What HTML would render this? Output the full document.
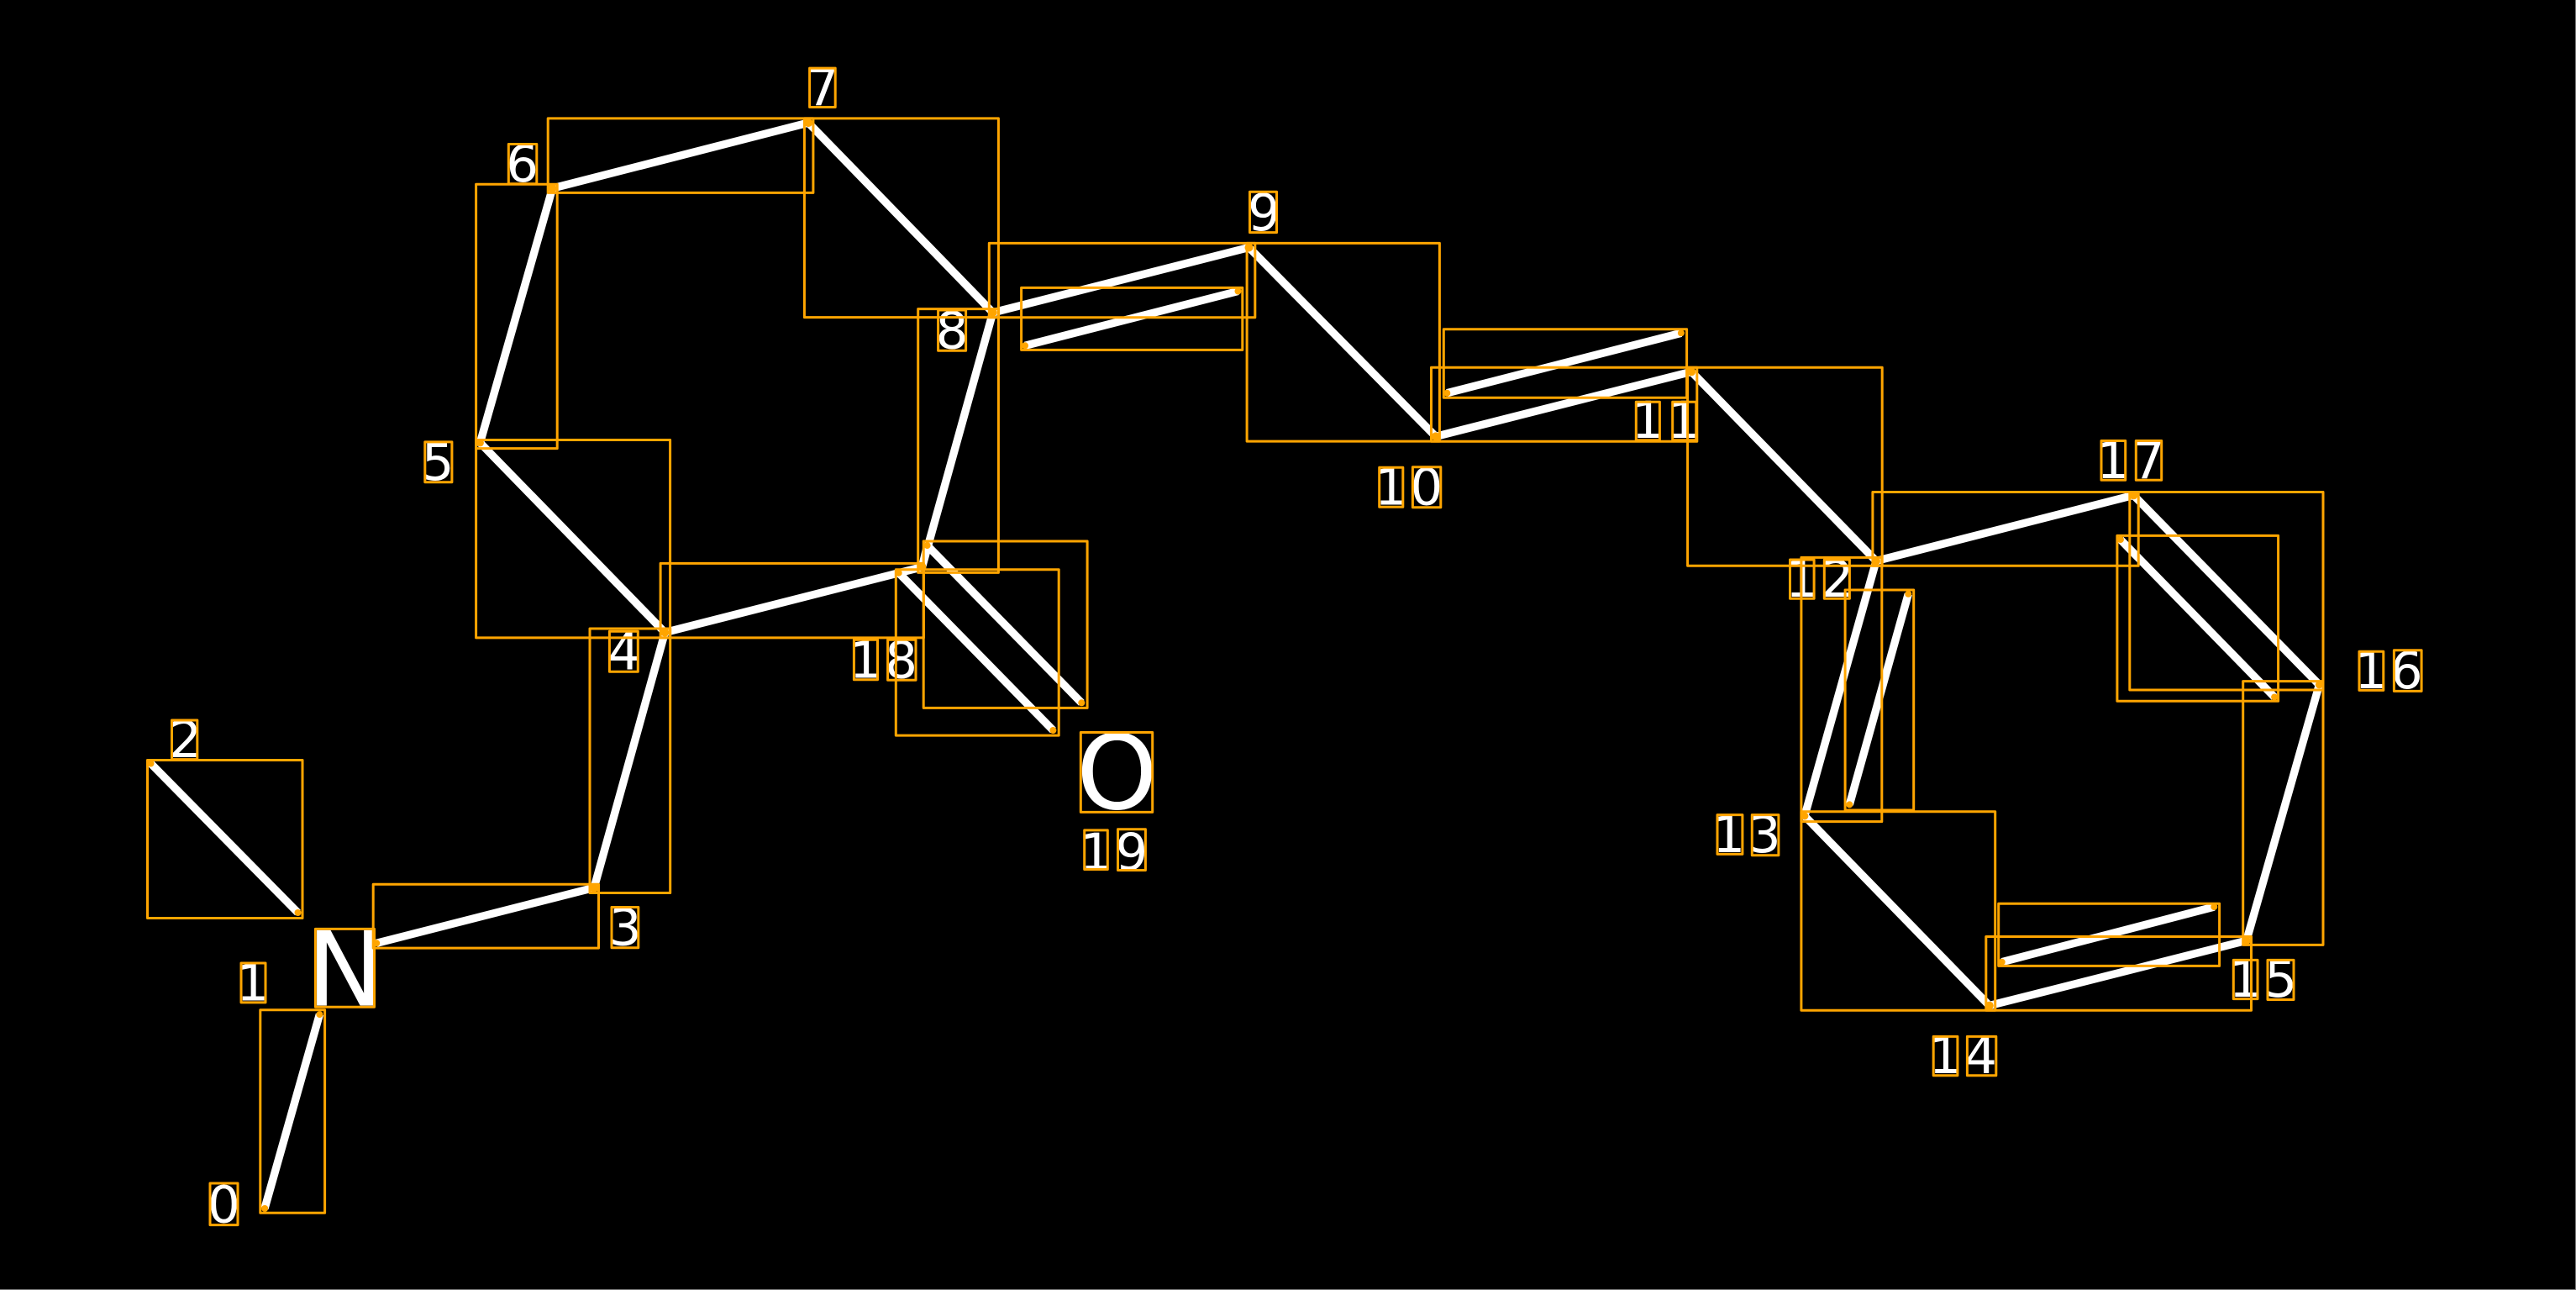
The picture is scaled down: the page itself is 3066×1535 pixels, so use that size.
<!DOCTYPE html>
<html>
<head>
<meta charset="utf-8">
<style>
html,body{margin:0;padding:0;background:#000;width:3066px;height:1535px;overflow:hidden}
svg{display:block;position:absolute;left:0;top:0}
text{font-family:"DejaVu Sans",sans-serif;fill:#fff;font-size:61px;letter-spacing:3.7px}
.b{font-size:123px;letter-spacing:0}
</style>
</head>
<body>
<svg width="3066" height="1535" viewBox="0 0 3066 1535" xmlns="http://www.w3.org/2000/svg">
<rect width="3066" height="1535" fill="#000"/>
<path d="M3065.5 0V1535M0 1534.5H3066" stroke="#777" stroke-width="1" fill="none"/>
<g fill="#fff">
<text x="247" y="1454.5">0</text>
<text x="281.2" y="1190.4">1</text>
<text x="201.2" y="901">2</text>
<text x="724.7" y="1124.5">3</text>
<text x="723.5" y="796.5">4</text>
<text x="501.7" y="571">5</text>
<text x="602.2" y="216">6</text>
<text x="959.8" y="125">7</text>
<text x="1113.6" y="414.5">8</text>
<text x="1485" y="274">9</text>
<text x="1636" y="600.7">10</text>
<text x="1941.7" y="521.2">11</text>
<text x="2125" y="709.8">12</text>
<text x="2038.4" y="1014">13</text>
<text x="2295.6" y="1277">14</text>
<text x="2652.7" y="1186">15</text>
<text x="2802.4" y="819">16</text>
<text x="2495.4" y="569">17</text>
<text x="1010.8" y="806.3">18</text>
<text x="1285" y="1035">19</text>
<text class="b" x="365" y="1196.5">N</text>
<text class="b" x="1281" y="962.5">O</text>
</g>
<g stroke="#fff" stroke-width="9.4" fill="none" stroke-linecap="butt">
<path d="M315 1438L380.4 1207"/>
<path d="M448.2 1122.3L707.1 1056.3"/>
<path d="M179.5 908.5L354.5 1086"/>
<path d="M707.1 1056.3L791.4 752.6M791.4 752.6L571.4 526.9M571.4 526.9L657.5 224.1M657.5 224.1L962.1 146.1M962.1 146.1L1181.7 371.9M1181.7 371.9L1097.5 674.7M1097.5 674.7L791.4 752.6"/>
<path d="M1097.5 674.7L1103.6 649"/>
<path d="M1103.6 649.1L1287.3 836.3"/>
<path d="M1069.7 681.7L1253.4 869"/>
<path d="M1181.7 371.9L1486.5 294.5M1486.5 294.5L1708.8 519.4M1708.8 519.4L2013.2 442.3M2013.2 442.3L2233 667.5M2233 667.5L2147.9 971M2147.9 971L2367.8 1196.6M2367.8 1196.6L2673.8 1119.2M2673.8 1119.2L2760.4 814.8M2760.4 814.8L2539.4 589.3M2539.4 589.3L2233 667.5"/>
<path d="M1220 411.3L1473.5 346.5"/>
<path d="M1722.3 467.7L2000.9 396.3"/>
<path d="M2201.3 957.4L2271.3 706.8"/>
<path d="M2382.7 1144.7L2635.3 1079.1"/>
<path d="M2523.9 642.1L2707.1 829.5"/>
</g>
<g stroke="#ffa500" stroke-width="3" fill="none" stroke-linejoin="round">
<rect x="309.8" y="1201.8" width="76.8" height="241.5"/>
<rect x="444.2" y="1052.2" width="268.3" height="75.9"/>
<rect x="175.5" y="904.5" width="184.5" height="188"/>
<rect x="702" y="748" width="95.7" height="314.5"/>
<rect x="566.6" y="523.5" width="231" height="235.4"/>
<rect x="566.6" y="219.3" width="96.6" height="314.3"/>
<rect x="652.2" y="140.9" width="315.7" height="88.5"/>
<rect x="957.4" y="140.9" width="231" height="236.7"/>
<rect x="1092.7" y="367.6" width="95.7" height="313.8"/>
<rect x="786.1" y="670.4" width="313.3" height="88.5"/>
<rect x="1099.2" y="644" width="194.9" height="198.4"/>
<rect x="1066.3" y="677.7" width="193.9" height="197.4"/>
<rect x="1177.3" y="289.4" width="316.5" height="88.3"/>
<rect x="1215.6" y="342.4" width="263.2" height="74"/>
<rect x="1484.1" y="289.4" width="229.3" height="235.7"/>
<rect x="1703.5" y="437.3" width="316.3" height="88"/>
<rect x="1718.3" y="391.7" width="289.3" height="81.6"/>
<rect x="2008.6" y="437.3" width="231.6" height="236"/>
<rect x="2228.9" y="585.5" width="316.3" height="87.8"/>
<rect x="2534.8" y="585.5" width="230.2" height="235.5"/>
<rect x="2519.9" y="637.4" width="191.7" height="196.8"/>
<rect x="2143.9" y="663.4" width="95.9" height="314.2"/>
<rect x="2196.1" y="702" width="81.6" height="262"/>
<rect x="2143.9" y="965.8" width="230.8" height="236.5"/>
<rect x="2363.8" y="1114.5" width="315.7" height="87.8"/>
<rect x="2378.7" y="1075.3" width="262.9" height="74.1"/>
<rect x="2669.7" y="810.6" width="95.3" height="313.8"/>
<!-- label boxes -->
<rect x="250" y="1408" width="33" height="49.6"/>
<rect x="287" y="1146" width="29" height="46.9"/>
<rect x="204.5" y="857" width="30.3" height="46.6"/>
<rect x="728" y="1079.5" width="31.8" height="48.2"/>
<rect x="725.4" y="751.2" width="33.9" height="48"/>
<rect x="505.8" y="525.9" width="32.1" height="47.9"/>
<rect x="605.3" y="171.5" width="33.5" height="47.3"/>
<rect x="963.6" y="81.1" width="30.6" height="46.4"/>
<rect x="1116.6" y="369" width="33" height="48.3"/>
<rect x="1487.5" y="228.2" width="32" height="48.4"/>
<rect x="1641.7" y="556.2" width="28.1" height="47"/>
<rect x="1681.4" y="555.7" width="33.4" height="48"/>
<rect x="1947.3" y="478.3" width="28.1" height="45.4"/>
<rect x="1990.7" y="478.3" width="28.1" height="45.4"/>
<rect x="2130.5" y="666" width="28.6" height="46.3"/>
<rect x="2171.3" y="666" width="30.1" height="46.3"/>
<rect x="2044" y="969.6" width="29.9" height="46.8"/>
<rect x="2085.3" y="969.6" width="31.6" height="48.2"/>
<rect x="2301.2" y="1233.4" width="28.7" height="46.3"/>
<rect x="2341.4" y="1233.4" width="34.4" height="46.3"/>
<rect x="2658.3" y="1142.4" width="28.7" height="46.2"/>
<rect x="2699" y="1142.4" width="31" height="47.1"/>
<rect x="2808" y="775.2" width="28.8" height="46.2"/>
<rect x="2849.4" y="773.8" width="32.7" height="48.6"/>
<rect x="2501" y="524.5" width="28.7" height="46.8"/>
<rect x="2542.3" y="524.5" width="30.4" height="46.8"/>
<rect x="1016.4" y="761.3" width="28.1" height="47.5"/>
<rect x="1056.6" y="761.3" width="33.4" height="48"/>
<rect x="1290.7" y="987.9" width="27.6" height="46.6"/>
<rect x="1330.5" y="986.8" width="32.9" height="48.7"/>
<rect x="375.4" y="1105.4" width="70.1" height="92.8"/>
<rect x="1286.3" y="871.5" width="85.4" height="94.9"/>
</g>
<g fill="#ffa500">
<circle cx="315.2" cy="1438" r="4"/><circle cx="380.4" cy="1207.1" r="4"/>
<circle cx="448.2" cy="1122.3" r="4"/>
<circle cx="179.5" cy="908.5" r="4"/><circle cx="354.5" cy="1086" r="4"/>
<circle cx="707.1" cy="1057" r="5"/><circle cx="791.4" cy="752.6" r="5"/>
<circle cx="571.4" cy="526.9" r="4.5"/><circle cx="657.5" cy="224.1" r="5"/>
<circle cx="962.1" cy="146.1" r="5"/><circle cx="1181.7" cy="371.9" r="5"/>
<circle cx="1097.5" cy="674.7" r="5"/><circle cx="1103.6" cy="649.1" r="4"/>
<circle cx="1287.3" cy="836.3" r="4"/><circle cx="1069.7" cy="681.7" r="4"/>
<circle cx="1253.4" cy="869" r="4"/>
<circle cx="1486.5" cy="294.5" r="5"/><circle cx="1708.8" cy="519.4" r="5"/>
<circle cx="2013.2" cy="442.3" r="5"/><circle cx="2233" cy="667.5" r="5"/>
<circle cx="2147.9" cy="971" r="4.5"/><circle cx="2367.8" cy="1196.6" r="5"/>
<circle cx="2673.8" cy="1119.2" r="5"/><circle cx="2760.4" cy="814.8" r="4.5"/>
<circle cx="2539.4" cy="589.3" r="5"/>
<circle cx="1220" cy="411.3" r="4"/><circle cx="1473.5" cy="346.5" r="4"/>
<circle cx="1722.3" cy="467.7" r="4"/><circle cx="2000.9" cy="396.3" r="4"/>
<circle cx="2201.3" cy="957.4" r="4"/><circle cx="2271.3" cy="706.8" r="4"/>
<circle cx="2382.7" cy="1144.7" r="4"/><circle cx="2635.3" cy="1079.1" r="4"/>
<circle cx="2523.9" cy="642.1" r="4"/><circle cx="2707.1" cy="829.5" r="4"/>
</g>
</svg>
</body>
</html>
